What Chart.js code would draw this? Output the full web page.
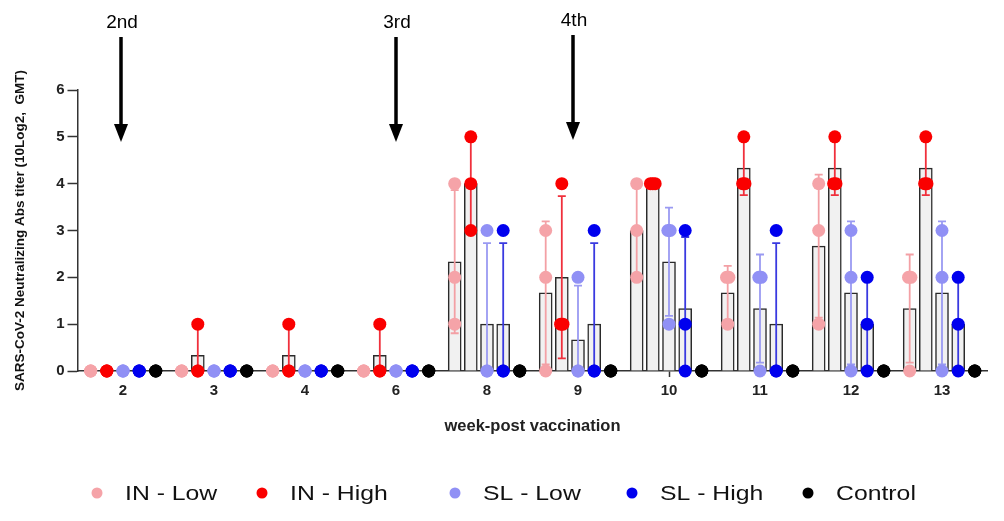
<!DOCTYPE html>
<html><head><meta charset="utf-8">
<script src="https://cdn.jsdelivr.net/npm/chart.js@4.4.1/dist/chart.umd.min.js"></script>
<style>html,body{margin:0;padding:0;background:#fff;}#wrap{position:relative;width:1004px;height:521px;}</style>
</head><body><div id="wrap"><canvas id="c" width="1004" height="521"></canvas></div>
<script>
// ---- data ----
const weeks = ['2','3','4','6','8','9','10','11','12','13'];
const seriesNames = ['IN - Low','IN - High','SL - Low','SL - High','Control'];
const inLow   = [[0,0,0],[0,0,0],[0,0,0],[0,0,0],[4,2,1],[3,2,0],[4,3,2],[2,2,1],[4,3,1],[2,2,0]];
const inHigh  = [[0,0,0],[1,0,0],[1,0,0],[1,0,0],[5,4,3],[4,1,1],[4,4,4],[5,4,4],[5,4,4],[5,4,4]];
const slLow   = [[0,0,0],[0,0,0],[0,0,0],[0,0,0],[3,0,0],[2,0,0],[3,3,1],[2,2,0],[3,2,0],[3,2,0]];
const slHigh  = [[0,0,0],[0,0,0],[0,0,0],[0,0,0],[3,0,0],[3,0,0],[3,1,0],[3,0,0],[2,1,0],[2,1,0]];
const control = [[0,0,0],[0,0,0],[0,0,0],[0,0,0],[0,0,0],[0,0,0],[0,0,0],[0,0,0],[0,0,0],[0,0,0]];
const yTicks = [0,1,2,3,4,5,6];
const doseLabels = ['2nd','3rd','4th'];
const doseWeeks = ['2','6','9'];

// ---- styles ----
const groups = [inLow, inHigh, slLow, slHigh, control];
const pointColors = ['#f5a3a8','#fa0000','#9090f5','#0000ee','#000000'];
const errColors = ['#f3a0a5','#f0303c','#9a9af2','#3a3ae0','#000000'];
const slotOffsets = [-0.355,-0.178,0,0.178,0.36];
const FONT = "'Liberation Sans', Arial, sans-serif";

const mean = a => a.reduce((p,c)=>p+c,0)/a.length;
const sdev = a => { const m = mean(a); return Math.sqrt(a.reduce((p,c)=>p+(c-m)*(c-m),0)/(a.length-1)); };

const datasets = [];
groups.forEach((g, s) => {
  datasets.push({
    type: 'bar', label: seriesNames[s], seriesIndex: s,
    data: g.map((vals, i) => ({x: i + slotOffsets[s], y: mean(vals)})),
    backgroundColor: '#f1f1f1', borderColor: '#2a2a2a', borderWidth: 1.5,
    borderSkipped: 'bottom', barThickness: 13, grouped: false, order: 3
  });
});
groups.forEach((g, s) => {
  const pts = [];
  g.forEach((vals, i) => {
    const seen = {};
    vals.forEach(v => {
      const n = vals.filter(u => u === v).length;
      seen[v] = (seen[v] || 0);
      const k = seen[v]++;
      const jit = (v > 0 && n > 1) ? (k - (n - 1) / 2) * 0.026 : 0;
      pts.push({x: i + slotOffsets[s] + jit, y: v});
    });
  });
  datasets.push({
    type: 'scatter', label: seriesNames[s] + ' pts', data: pts,
    pointRadius: 6.5, pointHoverRadius: 6.5, pointBackgroundColor: pointColors[s],
    pointBorderWidth: 0, borderColor: pointColors[s], showLine: false, clip: false, order: 1
  });
});

const errorBars = {
  id: 'errorBars',
  afterDatasetDraw(chart, args) {
    const ds = chart.data.datasets[args.index];
    if (ds.type !== 'bar') return;
    const s = ds.seriesIndex;
    const {ctx, chartArea, scales: {x, y}} = chart;
    ctx.save();
    ctx.beginPath();
    ctx.rect(chartArea.left, chartArea.top - 20, chartArea.width, chartArea.height + 20);
    ctx.clip();
    ctx.strokeStyle = errColors[s];
    ctx.lineWidth = 1.8;
    groups[s].forEach((vals, i) => {
      const sd = sdev(vals);
      if (sd === 0) return;
      const m = mean(vals);
      const px = x.getPixelForValue(i + slotOffsets[s]);
      const t = y.getPixelForValue(m + sd), b = y.getPixelForValue(m - sd);
      ctx.beginPath();
      ctx.moveTo(px, t); ctx.lineTo(px, b);
      ctx.moveTo(px - 4, t); ctx.lineTo(px + 4, t);
      ctx.moveTo(px - 4, b); ctx.lineTo(px + 4, b);
      ctx.stroke();
    });
    ctx.restore();
  }
};

const doseArrows = {
  id: 'doseArrows',
  afterDraw(chart) {
    const {ctx, scales: {x}} = chart;
    ctx.save();
    ctx.fillStyle = '#000'; ctx.strokeStyle = '#000';
    ctx.font = '19px ' + FONT; ctx.textAlign = 'center'; ctx.textBaseline = 'alphabetic';
    const shifts = [-0.02, 0, -0.06];
    const lift = [0, 0, -2];
    doseLabels.forEach((lab, j) => {
      const px = Math.round(x.getPixelForValue(weeks.indexOf(doseWeeks[j]) + shifts[j]));
      const dy = lift[j];
      ctx.fillText(lab, px + 1, 28 + dy);
      ctx.lineWidth = 3.5;
      ctx.beginPath(); ctx.moveTo(px, 37 + dy); ctx.lineTo(px, 128 + dy); ctx.stroke();
      ctx.beginPath(); ctx.moveTo(px - 7, 124 + dy); ctx.lineTo(px + 7, 124 + dy); ctx.lineTo(px, 142 + dy); ctx.closePath(); ctx.fill();
    });
    ctx.restore();
  }
};

const customLegend = {
  id: 'customLegend',
  afterDraw(chart) {
    const {ctx} = chart;
    const dotX = [97, 262, 455, 632, 808];
    ctx.save();
    ctx.font = '21px ' + FONT; ctx.textBaseline = 'middle'; ctx.textAlign = 'left';
    seriesNames.forEach((n, s) => {
      ctx.fillStyle = pointColors[s];
      ctx.beginPath(); ctx.arc(dotX[s], 493, 5.5, 0, Math.PI * 2); ctx.fill();
      ctx.fillStyle = '#111';
      ctx.save();
      ctx.translate(dotX[s] + 28, 494);
      ctx.scale(1.18, 1);
      ctx.fillText(n, 0, 0);
      ctx.restore();
    });
    ctx.restore();
  }
};

new Chart(document.getElementById('c'), {
  data: {datasets},
  options: {
    responsive: false, animation: false, devicePixelRatio: 1,
    layout: {padding: {left: 12, right: 16.5, top: 90, bottom: 85}},
    plugins: {legend: {display: false}, tooltip: {enabled: false}},
    scales: {
      x: {
        type: 'linear', min: -0.5, max: 9.5, offset: false,
        afterBuildTicks: sc => { sc.ticks = weeks.map((w, i) => ({value: i})); },
        afterFit: sc => { sc.height = 65; },
        ticks: {callback: v => weeks[v], font: {family: FONT, size: 15, weight: 'bold'}, color: '#222', padding: 5, maxRotation: 0, autoSkip: false},
        grid: {display: true, offset: false, drawOnChartArea: false, drawTicks: true, tickLength: 6, tickColor: '#333', tickWidth: 1.5},
        border: {display: true, color: '#333', width: 1.5},
        title: {display: true, text: 'week-post vaccination', font: {family: FONT, size: 16.5, weight: 'bold'}, color: '#222', padding: 0}
      },
      y: {
        type: 'linear', min: 0, max: 6,
        afterBuildTicks: sc => { sc.ticks = yTicks.map(v => ({value: v})); },
        afterFit: sc => { sc.width = 65.5; },
        ticks: {font: {family: FONT, size: 15, weight: 'bold'}, color: '#222', padding: 3},
        grid: {display: true, drawOnChartArea: false, drawTicks: true, tickLength: 10, tickColor: '#333', tickWidth: 1.5},
        border: {display: true, color: '#333', width: 1.5},
        title: {display: true, text: 'SARS-CoV-2 Neutralizing Abs titer (10Log2,  GMT)', font: {family: FONT, size: 13.5, weight: 'bold'}, color: '#111', padding: 0}
      }
    }
  },
  plugins: [errorBars, doseArrows, customLegend]
});
</script>
</body></html>
